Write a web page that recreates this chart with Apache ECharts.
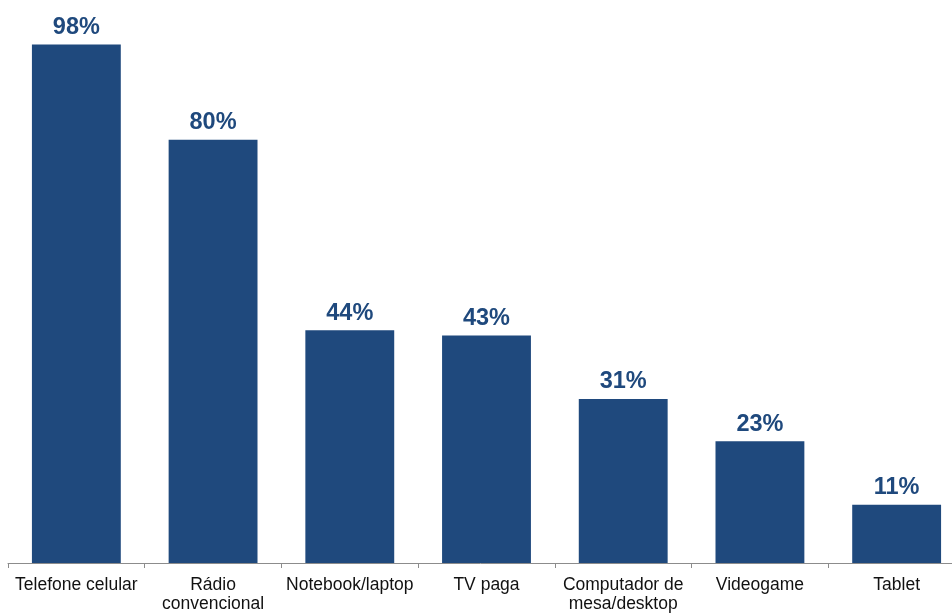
<!DOCTYPE html>
<html>
<head>
<meta charset="utf-8">
<script src="https://cdn.jsdelivr.net/npm/echarts@6/dist/echarts.min.js"></script>
<style>
  html, body { margin: 0; padding: 0; background: #ffffff; }
  #chart { width: 952px; height: 613px; }
</style>
</head>
<body>
<div id="chart"></div>
<script>
// Device ownership shares (%)
const categories = [
  'Telefone celular',
  'Rádio\nconvencional',
  'Notebook/laptop',
  'TV paga',
  'Computador de\nmesa/desktop',
  'Videogame',
  'Tablet'
];
const shares = [98, 80, 44, 43, 31, 23, 11];

const chart = echarts.init(document.getElementById('chart'), null, { renderer: 'canvas' });

chart.setOption({
  animation: false,
  backgroundColor: '#ffffff',
  // plot area runs slightly past the right edge of the canvas
  grid: {
    left: 8, top: 34, width: 957, height: 529,
    containLabel: false,
    outerBoundsMode: 'none'
  },
  xAxis: {
    type: 'category',
    data: categories,
    axisLine: { show: true, lineStyle: { color: '#8c8c8c', width: 1 } },
    axisTick: { show: true, alignWithLabel: false, length: 5, lineStyle: { color: '#8c8c8c' } },
    axisLabel: {
      color: '#111111',
      fontFamily: 'Liberation Sans, Arial, sans-serif',
      fontSize: 17.5,
      lineHeight: 19,
      margin: 13,
      interval: 0
    }
  },
  yAxis: {
    type: 'value',
    min: 0,
    max: 100,
    show: false,
    splitLine: { show: false }
  },
  series: [{
    type: 'bar',
    data: shares,
    barWidth: '65%',
    itemStyle: { color: '#1f497d' },
    label: {
      show: true,
      position: 'top',
      distance: 5,
      formatter: '{c}%',
      color: '#1f497d',
      fontFamily: 'Liberation Sans, Arial, sans-serif',
      fontWeight: 'bold',
      fontSize: 23.5
    }
  }]
});
</script>
</body>
</html>
